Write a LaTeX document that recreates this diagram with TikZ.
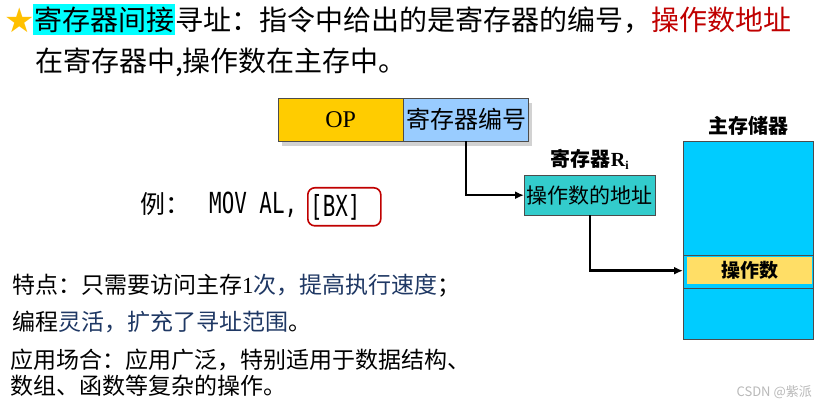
\documentclass[tikz,border=0pt]{standalone}
\usepackage{fontspec}
\setmainfont{Noto Sans CJK SC}
\newfontfamily\seriffont{Liberation Serif}
\newfontfamily\codefont{DejaVu Sans Mono}
\newfontfamily\symbolfont{DejaVu Sans}
\usepackage{xcolor}
\definecolor{opyellow}{RGB}{255, 204, 0}
\definecolor{regblue}{RGB}{153, 204, 255}
\definecolor{riteal}{RGB}{51, 204, 204}
\definecolor{memcyan}{RGB}{0, 204, 255}
\definecolor{cellyellow}{RGB}{255, 222, 102}
\definecolor{hlcyan}{RGB}{0, 255, 255}
\definecolor{keyred}{RGB}{192, 0, 0}
\definecolor{noteblue}{RGB}{31, 56, 100}
\definecolor{starorange}{RGB}{255, 192, 0}
\newcommand{\fsz}[1]{\fontsize{#1pt}{#1pt}\selectfont}
\newcommand{\code}[1]{\scalebox{0.72}[1]{\codefont\fsz{29}#1}}
\usetikzlibrary{positioning,arrows.meta}

\begin{document}
\begin{tikzpicture}[x=1pt,y=-1pt,
    box/.style={draw=gray!60!black, inner sep=0pt, anchor=north west},
    link/.style={-{Latex[length=9pt,width=8pt]}, line width=2.4pt},
    txt/.style={anchor=west, inner sep=0pt}]
    \useasboundingbox[fill=white] (0,0) rectangle (823,406);

    % Title
    \node[txt, starorange] (star) at (4,20) {\symbolfont\fsz{34}★};
    \node[txt, fill=hlcyan, minimum height=31, inner xsep=1pt] (hl) at (33,20) {\fsz{28}寄存器间接};
    \node[txt] (title) at (hl.east) {\fsz{28}寻址：指令中给出的是寄存器的编号，\textcolor{keyred}{操作数地址}};
    \node[txt] (title2) at (35,62) {\fsz{28}在寄存器中,操作数在主存中。};

    % Instruction format
    \fill[gray!35] (282,103) rectangle (532,146);
    \node[box, fill=opyellow, minimum width=125, minimum height=43] (op) at (278,98) {\seriffont\fsz{24}OP};
    \node[box, fill=regblue, minimum width=125, minimum height=43, right=0pt of op] (regno) {\fsz{24}寄存器编号};

    % Register Ri
    \node[box, fill=riteal, minimum width=131, minimum height=40] (ri) at (524,175) {\fsz{21}操作数的地址};
    \node[above=2pt of ri] (rilabel) {\fsz{20}\bfseries 寄存器{\seriffont R\raisebox{-3pt}{\fsz{12}i}}};

    % Main memory
    \node[box, fill=memcyan, minimum width=130, minimum height=198] (mem) at (683,141) {};
    \node[above=2pt of mem] (memlabel) {\fsz{20}\bfseries 主存储器};
    \draw[gray!60!black] (683,255) -- (813,255);
    \draw[gray!60!black] (683,288) -- (813,288);
    \node[box, draw=none, fill=cellyellow, minimum width=125, minimum height=27] (cell) at (687,257) {\fsz{19}\bfseries 操作数};

    % Connectors
    \draw[link] (regno.south) |- (ri.west);
    \draw[link] (ri.south) |- (cell.west -| mem.west);

    % Example
    \node[txt] (ex) at (140,204) {\fsz{25}例：};
    \node[txt] (mov) at (209,205) {\code{MOV AL,}};
    \node[box, draw=keyred, line width=1.6pt, rounded corners=7pt, minimum width=73, minimum height=38] (bx) at (307,187) {};
    \node[txt] (bxtext) at ([xshift=3pt,yshift=-1pt]bx.west) {\code{[BX]}};

    % Notes
    \node[txt] (note1) at (12,286) {\fsz{23}特点：只需要访问主存{\seriffont 1}\textcolor{noteblue}{次，提高执行速度}；};
    \node[txt] (note2) at (12,322) {\fsz{23}编程\textcolor{noteblue}{灵活，扩充了寻址范围}。};
    \node[txt] (note3) at (10,360) {\fsz{23}应用场合：应用广泛，特别适用于数据结构、};
    \node[txt] (note4) at (10,386) {\fsz{23}数组、函数等复杂的操作。};

    \node[anchor=east, inner sep=0pt, gray!55] (mark) at (812,392) {\fsz{13}CSDN @紫派};
\end{tikzpicture}
\end{document}
